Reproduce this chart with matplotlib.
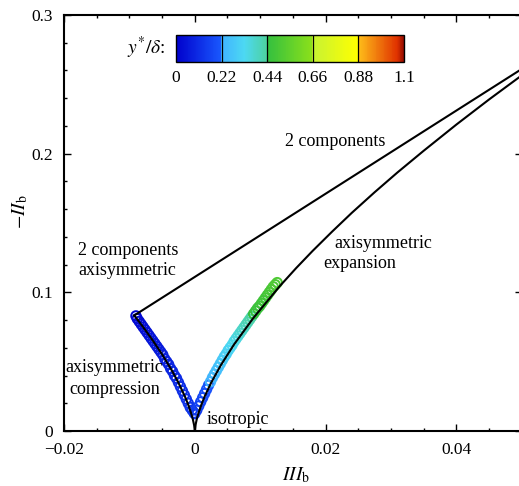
import matplotlib
matplotlib.use('Agg')
import matplotlib.pyplot as plt
from matplotlib.colors import LinearSegmentedColormap, Normalize
from matplotlib.cm import ScalarMappable
from matplotlib.ticker import MultipleLocator

plt.rcParams['font.family'] = ['Liberation Serif', 'DejaVu Serif']
plt.rcParams['mathtext.fontset'] = 'stix'

# ---- Lumley triangle boundaries (points) ----
comp_III = [-0.009259, -0.008, -0.0065, -0.005, -0.0035, -0.0025, -0.0015, -0.001, -0.0006, -0.0003, -0.0001, 0.0]
comp_II = [0.08333, 0.0756, 0.0658, 0.0553, 0.0436, 0.0348, 0.0248, 0.0189, 0.0134, 0.0085, 0.0041, 0.0]
exp_III = [0.0, 0.0001, 0.0003, 0.0006, 0.001, 0.0015, 0.0025, 0.004, 0.006, 0.009, 0.013,
           0.0155, 0.018, 0.021, 0.024, 0.0275, 0.031, 0.035, 0.040, 0.045, 0.050, 0.052]
exp_II = [0.0, 0.0041, 0.0085, 0.0134, 0.0189, 0.0248, 0.0348, 0.0476, 0.0624, 0.0818, 0.1045,
          0.1175, 0.1298, 0.1438, 0.1573, 0.1722, 0.1865, 0.2021, 0.2210, 0.2391, 0.2565, 0.2633]
twoc_III = [-0.009259, 0.052]
twoc_II = [0.08333, 0.2671]

# ---- data: left branch (axisymmetric compression side) ----
left_III = [-0.0090, -0.0088, -0.0085, -0.0082, -0.0079, -0.0076, -0.0073, -0.0070, -0.0067, -0.0064,
            -0.0061, -0.0058, -0.0055, -0.0052, -0.0049, -0.0046, -0.0043, -0.0040, -0.0037, -0.0034,
            -0.0031, -0.0028, -0.0025, -0.0022, -0.0019, -0.0016, -0.0013, -0.0010, -0.0007, -0.0004, -0.0001]
left_II = [0.083, 0.081, 0.079, 0.077, 0.075, 0.073, 0.071, 0.069, 0.067, 0.065,
           0.063, 0.061, 0.059, 0.057, 0.055, 0.052, 0.050, 0.048, 0.045, 0.043,
           0.040, 0.038, 0.035, 0.032, 0.029, 0.026, 0.023, 0.020, 0.017, 0.015, 0.013]
left_y = [0.02, 0.024, 0.028, 0.032, 0.036, 0.04, 0.044, 0.048, 0.052, 0.056,
          0.06, 0.064, 0.068, 0.072, 0.076, 0.08, 0.084, 0.088, 0.092, 0.096,
          0.10, 0.104, 0.108, 0.112, 0.116, 0.12, 0.124, 0.128, 0.132, 0.136, 0.14]

# ---- data: right branch (axisymmetric expansion side) ----
right_III = [0.0000, 0.0003, 0.0006, 0.0009, 0.0012, 0.0015, 0.0018, 0.0021, 0.0024, 0.0027,
             0.0030, 0.0033, 0.0036, 0.0039, 0.0042, 0.0045, 0.0048, 0.0051, 0.0054, 0.0057,
             0.0060, 0.0063, 0.0066, 0.0069, 0.0072, 0.0075, 0.0078, 0.0081, 0.0084, 0.0087,
             0.0090, 0.0093, 0.0096, 0.0099, 0.0102, 0.0105, 0.0108, 0.0111, 0.0114, 0.0117,
             0.0120, 0.0123, 0.0126]
right_II = [0.0125, 0.0150, 0.0180, 0.0210, 0.0240, 0.0270, 0.0300, 0.0330, 0.0355, 0.0385,
            0.0410, 0.0435, 0.0460, 0.0485, 0.0510, 0.0535, 0.0555, 0.0580, 0.0600, 0.0620,
            0.0645, 0.0665, 0.0685, 0.0705, 0.0725, 0.0745, 0.0765, 0.0785, 0.0805, 0.0825,
            0.0845, 0.0865, 0.0885, 0.0900, 0.0920, 0.0940, 0.0960, 0.0980, 0.1000, 0.1020,
            0.1040, 0.1055, 0.1070]
right_y = [0.14, 0.15, 0.16, 0.17, 0.18, 0.19, 0.20, 0.21, 0.22, 0.23,
           0.24, 0.25, 0.26, 0.27, 0.28, 0.29, 0.30, 0.31, 0.32, 0.33,
           0.34, 0.35, 0.36, 0.37, 0.38, 0.39, 0.40, 0.41, 0.42, 0.43,
           0.44, 0.45, 0.46, 0.46, 0.47, 0.47, 0.48, 0.48, 0.49, 0.49,
           0.50, 0.50, 0.51]

cb_ticks = [0, 0.22, 0.44, 0.66, 0.88, 1.1]
cb_labels = ['0', '0.22', '0.44', '0.66', '0.88', '1.1']

cmap = LinearSegmentedColormap.from_list('tec', [
    (0.0, (0.0, 0.0, 0.80)),
    (0.199, (0.10, 0.35, 1.0)),
    (0.2, (0.25, 0.70, 1.0)),
    (0.3, (0.30, 0.85, 0.95)),
    (0.399, (0.30, 0.82, 0.62)),
    (0.4, (0.20, 0.75, 0.25)),
    (0.599, (0.55, 0.88, 0.10)),
    (0.6, (0.78, 0.95, 0.20)),
    (0.799, (1.0, 1.0, 0.0)),
    (0.8, (1.0, 0.75, 0.10)),
    (0.97, (0.88, 0.20, 0.0)),
    (1.0, (0.6, 0.05, 0.0)),
])
norm = Normalize(0, 1.1)

fig = plt.figure(figsize=(5.19, 4.86), dpi=100)
ax = fig.add_axes([64/519, 55/486, (521.8-64)/519, 416/486])

ax.scatter(left_III, left_II, s=46, facecolors='none', edgecolors=cmap(norm(left_y)), linewidths=1.4, zorder=2)
ax.scatter(right_III, right_II, s=46, facecolors='none', edgecolors=cmap(norm(right_y)), linewidths=1.4, zorder=2)

ax.plot(comp_III, comp_II, color='k', lw=1.5, zorder=3)
ax.plot(exp_III, exp_II, color='k', lw=1.5, zorder=3)
ax.plot(twoc_III, twoc_II, color='k', lw=1.5, zorder=3)

ax.set_xlim(-0.02, 0.05)
ax.set_ylim(0, 0.3)
ax.set_xticks([-0.02, 0, 0.02, 0.04])
ax.set_xticklabels(['\u22120.02', '0', '0.02', '0.04'])
ax.set_yticks([0, 0.1, 0.2, 0.3])
ax.set_yticklabels(['0', '0.1', '0.2', '0.3'])
ax.xaxis.set_minor_locator(MultipleLocator(0.005))
ax.yaxis.set_minor_locator(MultipleLocator(0.02))
ax.tick_params(which='both', direction='in', top=True, right=True, width=1.0, labelsize=12.5)
ax.tick_params(which='major', length=5)
ax.tick_params(which='minor', length=2.5)
ax.tick_params(axis='x', pad=8)
ax.tick_params(axis='y', pad=8)
for sp in ax.spines.values():
    sp.set_linewidth(1.5)

fs = 13
ax.text(-0.0178, 0.1305, '2 components', fontsize=fs, ha='left', va='center')
ax.text(-0.0178, 0.1160, 'axisymmetric', fontsize=fs, ha='left', va='center')
ax.text(-0.0198, 0.0455, 'axisymmetric', fontsize=fs, ha='left', va='center')
ax.text(-0.0192, 0.0300, 'compression', fontsize=fs, ha='left', va='center')
ax.text(0.0018, 0.0085, 'isotropic', fontsize=fs, ha='left', va='center')
ax.text(0.0215, 0.2085, '2 components', fontsize=fs, ha='center', va='center')
ax.text(0.0214, 0.1355, 'axisymmetric', fontsize=fs, ha='left', va='center')
ax.text(0.0196, 0.1210, 'expansion', fontsize=fs, ha='left', va='center')

fig.text(20/519, 1-212/486, r'$-\mathit{II}_{\mathrm{b}}$', rotation=90, fontsize=14, ha='center', va='center')
fig.text(296/519, 1-475/486, r'$\mathit{III}_{\mathrm{b}}$', fontsize=14, ha='center', va='center')

cax = fig.add_axes([176/519, 1-62/486, 228/519, 27/486])
sm = ScalarMappable(norm=norm, cmap=cmap)
cb = fig.colorbar(sm, cax=cax, orientation='horizontal', ticks=cb_ticks)
cb.ax.set_xticklabels(cb_labels)
cb.ax.tick_params(length=0, pad=6, labelsize=12.5)
cb.outline.set_linewidth(1.0)
for t in cb_ticks[1:-1]:
    cax.axvline(t, color='k', lw=0.9)
fig.text(165/519, 1-48/486, r'$y^{*}/\delta$:', fontsize=14, ha='right', va='center')

fig.savefig('out.png', dpi=100)
